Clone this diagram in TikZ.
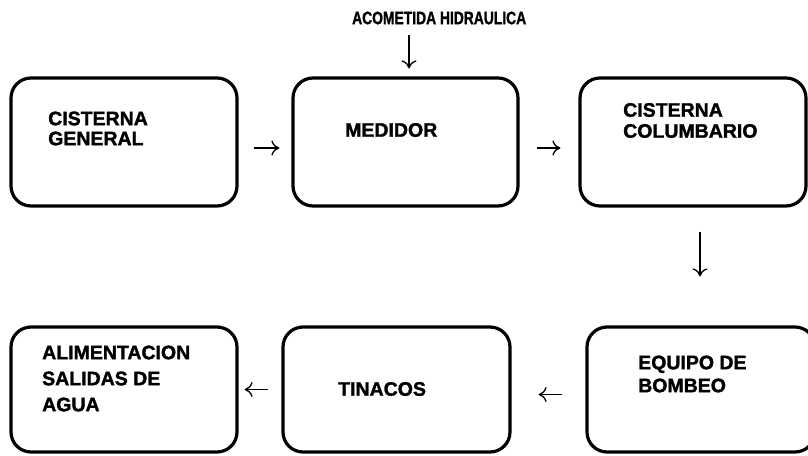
\documentclass[tikz,border=0pt]{standalone}
\usepackage{fontspec}
\setmainfont{Liberation Sans}[BoldFeatures={FakeBold=1.6}]
\usetikzlibrary{arrows.meta}
\begin{document}
\begin{tikzpicture}[x=1pt,y=-1pt,
  box/.style={draw, line width=3.2pt, rounded corners=20pt, inner sep=0pt},
  lbl/.style={font=\bfseries\fontsize{19.5}{22}\selectfont, align=left, inner sep=0pt, anchor=west},
  arr/.style={line width=1.2pt, -{Computer Modern Rightarrow[length=8pt,width=15pt,line width=1.3pt]}}]
\clip (0,0) rectangle (808,455);
% boxes
\node[box, minimum width=226pt, minimum height=128pt] (b1) at (124,142) {};
\node[box, minimum width=225pt, minimum height=128pt] (b2) at (405.5,142) {};
\node[box, minimum width=226pt, minimum height=128pt] (b3) at (693,142) {};
\node[box, minimum width=226pt, minimum height=125pt] (b4) at (124,389.5) {};
\node[box, minimum width=227pt, minimum height=125pt] (b5) at (396.5,389.5) {};
\node[box, minimum width=228pt, minimum height=125pt] (b6) at (701,389.5) {};
% labels
\node[lbl, anchor=west] (t0) at (352,18) {\fontsize{18}{20}\selectfont\scalebox{0.77}[1]{ACOMETIDA HIDRAULICA}};
\node[lbl, font=\bfseries\fontsize{19.5}{20}\selectfont] (t1) at (48,128.5) {CISTERNA\\GENERAL};
\node[lbl] (t2) at (345,130) {MEDIDOR};
\node[lbl, font=\bfseries\fontsize{19.5}{21}\selectfont] (t3) at (623,120.5) {CISTERNA\\COLUMBARIO};
\node[lbl, font=\bfseries\fontsize{19.5}{26}\selectfont] (t4) at (42,378.5) {ALIMENTACION\\SALIDAS DE\\AGUA};
\node[lbl] (t5) at (338,389) {TINACOS};
\node[lbl, font=\bfseries\fontsize{19.5}{23}\selectfont] (t6) at (638,374) {EQUIPO DE\\BOMBEO};
% connectors
\coordinate (c0) at (409,35);
\draw[arr, shorten >=8pt] (c0) -- (c0 |- b2.north);
\draw[arr, shorten <=15pt, shorten >=12pt] ([yshift=-6pt]b1.east) -- ([yshift=-6pt]b2.west);
\draw[arr, shorten <=17pt, shorten >=18pt] ([yshift=-6pt]b2.east) -- ([yshift=-6pt]b3.west);
\draw[arr, shorten <=24pt, shorten >=49pt] ([xshift=7pt]b3.south) -- ([xshift=7pt]b3.south |- b6.north);
\draw[arr, shorten <=23pt, shorten >=27pt] ([yshift=-5pt]b6.west) -- ([yshift=-5pt]b5.east);
\draw[arr, shorten <=13pt, shorten >=6pt] (b5.west) -- (b4.east);
\end{tikzpicture}
\end{document}
